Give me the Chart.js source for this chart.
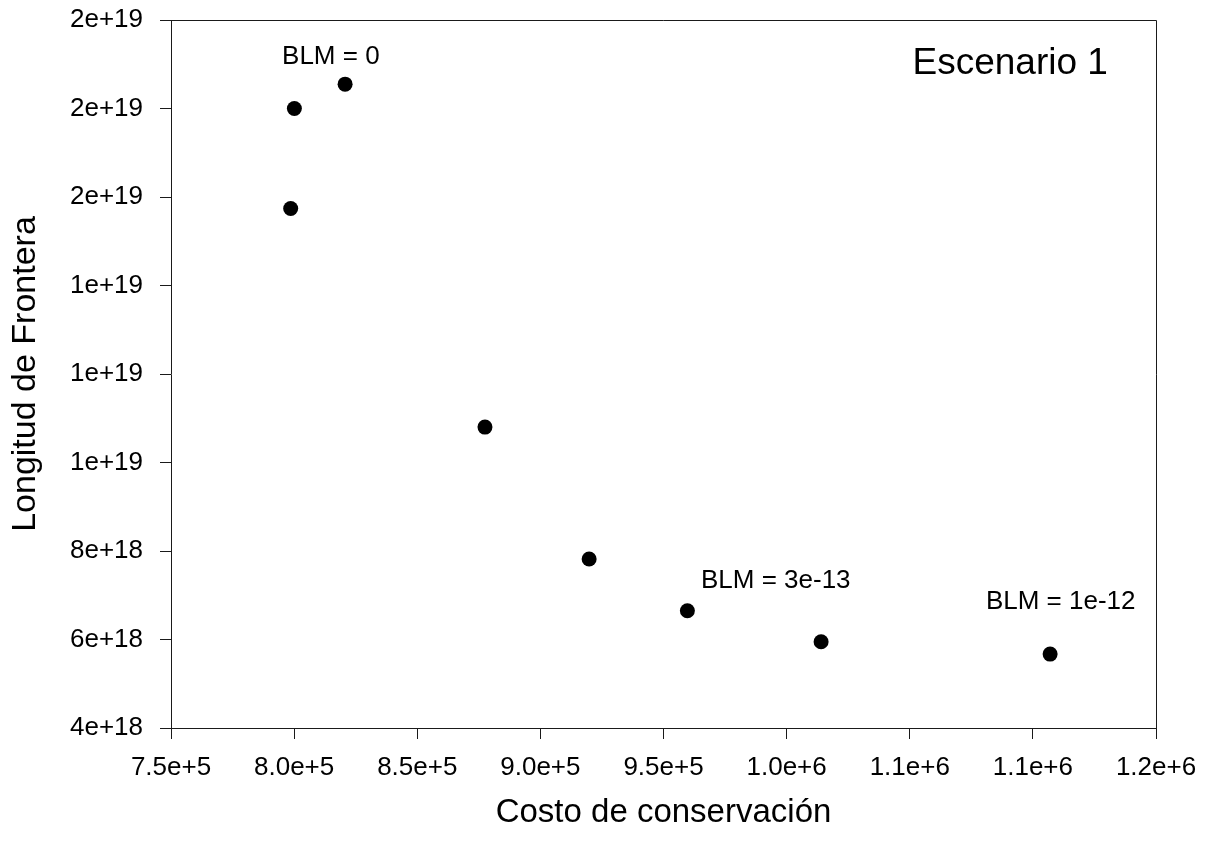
<!DOCTYPE html>
<html lang="es">
<head>
<meta charset="utf-8">
<title>Escenario 1</title>
<script src="https://cdn.jsdelivr.net/npm/chart.js@4/dist/chart.umd.min.js"></script>
<style>
  html, body { margin: 0; padding: 0; background: #fff; }
  #wrap { width: 1207px; height: 841px; }
</style>
</head>
<body>
<div id="wrap"><canvas id="chart" width="1207" height="841"></canvas></div>
<script>
// --- data ---
const costo = [800100, 820700, 798600, 877500, 919800, 959700, 1014000, 1107000];
const longitud = [1.800e19, 1.855e19, 1.574e19, 1.080e19, 7.82e18, 6.65e18, 5.95e18, 5.67e18];

const xTickValues = [750000, 800000, 850000, 900000, 950000, 1000000, 1050000, 1100000, 1150000];
const xTickLabels = ['7.5e+5', '8.0e+5', '8.5e+5', '9.0e+5', '9.5e+5', '1.0e+6', '1.1e+6', '1.1e+6', '1.2e+6'];
const yTickValues = [4e18, 6e18, 8e18, 1.0e19, 1.2e19, 1.4e19, 1.6e19, 1.8e19, 2.0e19];
const yTickLabels = ['4e+18', '6e+18', '8e+18', '1e+19', '1e+19', '1e+19', '2e+19', '2e+19', '2e+19'];

// text notes placed in data units (x centre, y baseline)
const noteTexts = ['BLM = 0', 'BLM = 3e-13', 'BLM = 1e-12', 'Escenario 1'];
const noteX = [814900, 995600, 1111300, 1090800];
const noteY = [1.900e19, 7.16e18, 6.70e18, 1.878e19];
const noteSize = [26, 26, 26, 37];

const FONT = '"Liberation Sans", Arial, sans-serif';
const INK = '#1a1a1a';

// top + right sides of the frame
const framePlugin = {
  id: 'frame',
  afterDraw(chart) {
    const { ctx, chartArea: a } = chart;
    ctx.save();
    ctx.strokeStyle = INK;
    ctx.lineWidth = 1;
    ctx.beginPath();
    ctx.moveTo(a.left, a.top + 0.5);
    ctx.lineTo(a.right + 0.5, a.top + 0.5);
    ctx.lineTo(a.right + 0.5, a.bottom);
    ctx.stroke();
    ctx.restore();
  }
};

const notesPlugin = {
  id: 'notes',
  afterDatasetsDraw(chart) {
    const { ctx, scales } = chart;
    ctx.save();
    ctx.fillStyle = '#000';
    ctx.textAlign = 'center';
    ctx.textBaseline = 'alphabetic';
    noteTexts.forEach((t, i) => {
      ctx.font = noteSize[i] + 'px ' + FONT;
      ctx.fillText(t, scales.x.getPixelForValue(noteX[i]), scales.y.getPixelForValue(noteY[i]));
    });
    ctx.restore();
  }
};

const points = costo.map((x, i) => ({ x, y: longitud[i] }));

new Chart(document.getElementById('chart'), {
  type: 'scatter',
  data: {
    datasets: [{
      data: points,
      backgroundColor: '#000',
      borderWidth: 0,
      pointRadius: 7.5,
      pointHoverRadius: 7.5
    }]
  },
  options: {
    responsive: false,
    animation: false,
    events: [],
    layout: { padding: { left: 0, top: 20, right: 51, bottom: 0 } },
    plugins: { legend: { display: false }, tooltip: { enabled: false } },
    scales: {
      x: {
        type: 'linear',
        min: 750000,
        max: 1150000,
        afterBuildTicks: s => { s.ticks = xTickValues.map(v => ({ value: v })); },
        afterFit: s => { s.height = 113; s.paddingRight = 0; s.paddingLeft = 0; },
        grid: { drawOnChartArea: false, color: INK, tickLength: 11, tickWidth: 1 },
        border: { color: INK, width: 1 },
        ticks: {
          color: '#000',
          font: { family: FONT, size: 26 },
          padding: 13,
          maxRotation: 0,
          autoSkip: false,
          callback: (v, i) => xTickLabels[i]
        },
        title: {
          display: true,
          text: 'Costo de conservación',
          color: '#000',
          font: { family: FONT, size: 33 },
          padding: { top: 0, bottom: 8 }
        }
      },
      y: {
        type: 'linear',
        min: 4e18,
        max: 2e19,
        afterBuildTicks: s => { s.ticks = yTickValues.map(v => ({ value: v })); },
        afterFit: s => { s.width = 171; s.paddingTop = 0; s.paddingBottom = 0; },
        grid: { drawOnChartArea: false, color: INK, tickLength: 11, tickWidth: 1 },
        border: { color: INK, width: 1 },
        ticks: {
          color: '#000',
          font: { family: FONT, size: 26 },
          padding: 17,
          autoSkip: false,
          callback: (v, i) => yTickLabels[i]
        },
        title: {
          display: true,
          text: 'Longitud de Frontera',
          color: '#000',
          font: { family: FONT, size: 34 },
          padding: { top: 5, bottom: 0 }
        }
      }
    }
  },
  plugins: [framePlugin, notesPlugin]
});
</script>
</body>
</html>
